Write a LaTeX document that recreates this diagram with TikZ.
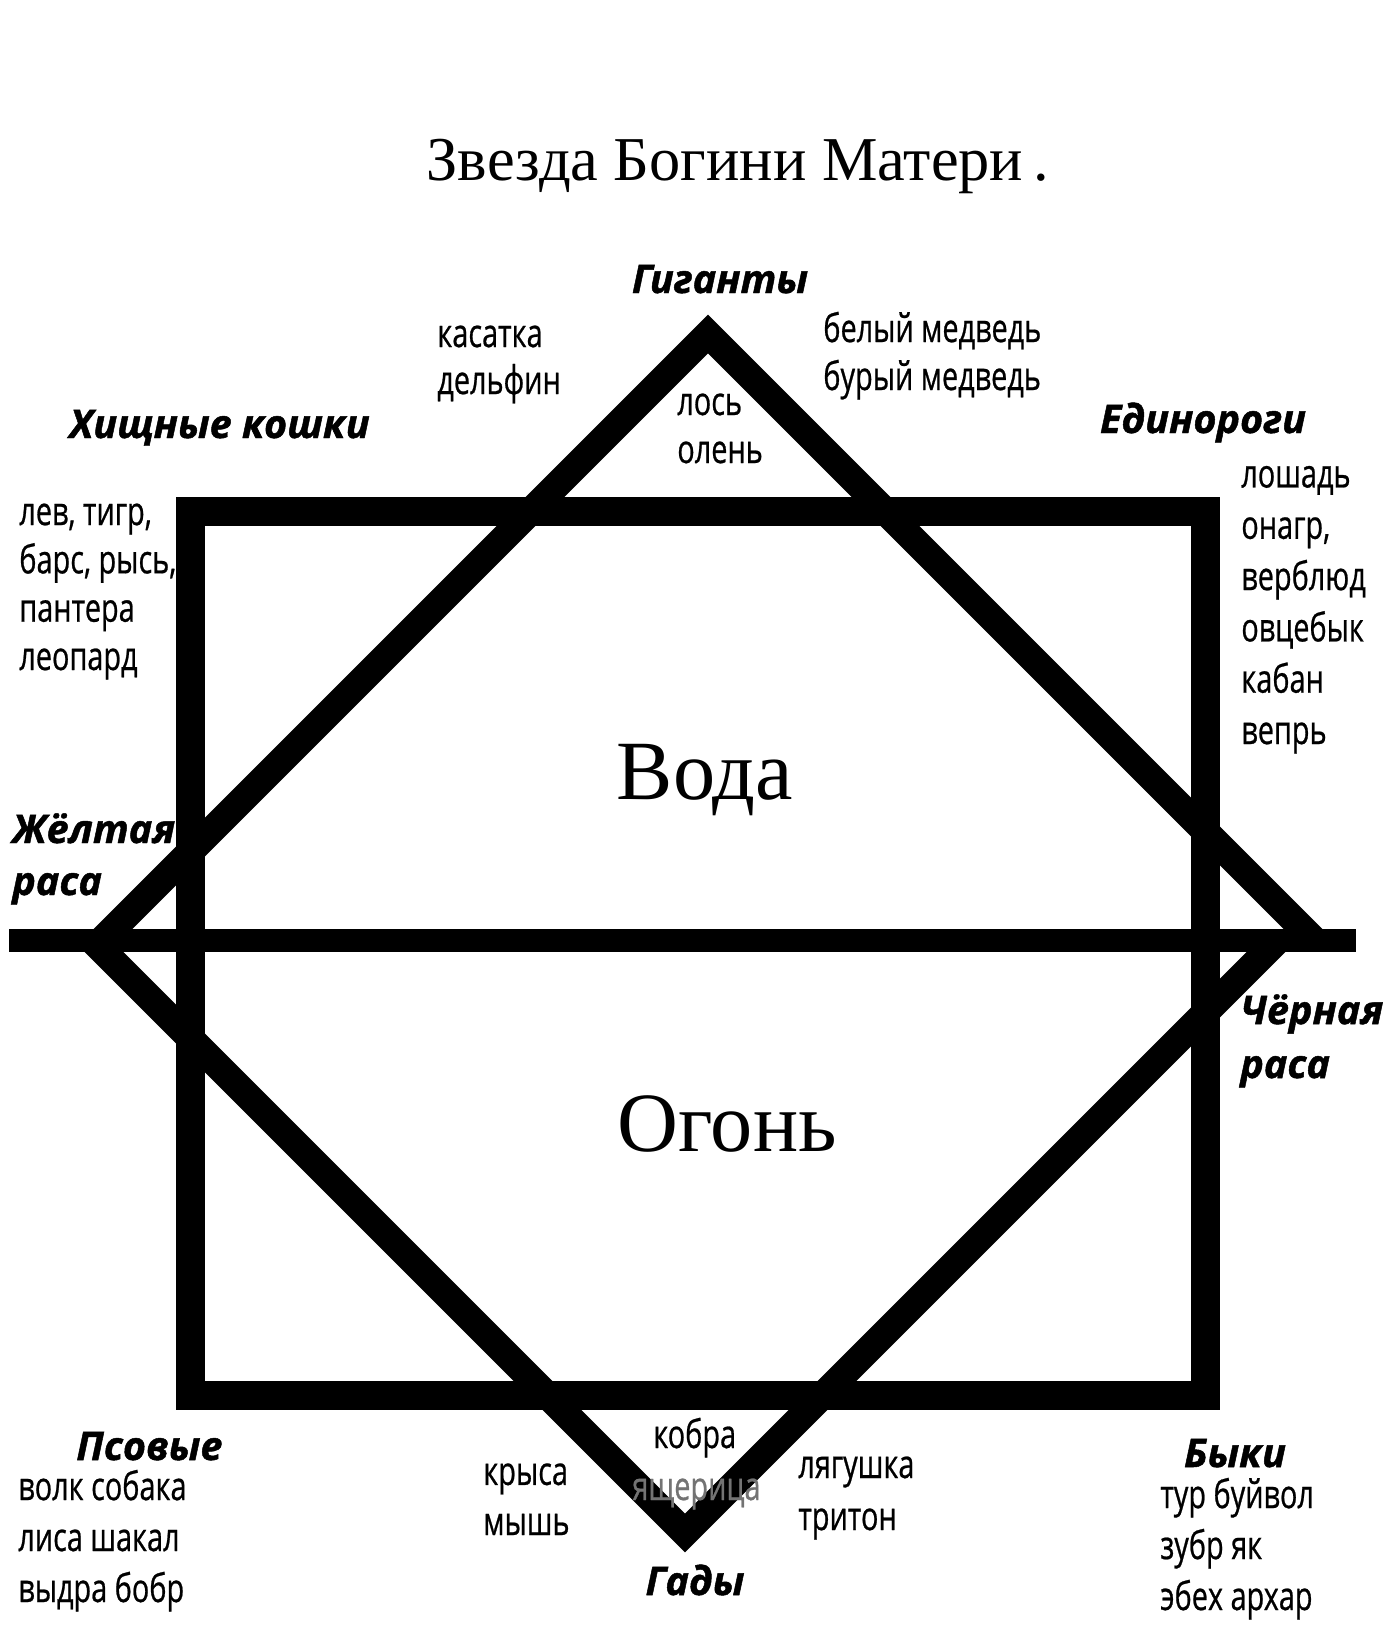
\documentclass[tikz,border=0pt]{standalone}
\usepackage{fontspec}
\setmainfont{Liberation Serif}
\newfontfamily\narrowsans[FakeStretch=0.73, FakeBold=0.6]{Open Sans}
\newfontfamily\headsans[BoldItalicFeatures={FakeBold=1.2}]{Open Sans}
\begin{document}
\begin{tikzpicture}[x=0.02cm, y=-0.02cm]
    \tikzset{
        band/.style={line width=15.6pt, line join=miter},
        lbl/.style={font=\narrowsans\fontsize{22.5}{#1}\selectfont, align=left, anchor=base west, inner sep=0pt},
        lbl/.default=28.5,
        grp/.style={font=\headsans\bfseries\itshape\fontsize{22.5}{#1}\selectfont, align=left, anchor=base west, inner sep=0pt},
        grp/.default=29.6,
        big/.style={font=\fontsize{48}{48}\selectfont, anchor=base, inner sep=0pt}
        }
    \useasboundingbox (0,0) rectangle (1386,1646);

    %title
    \node (title) [font=\fontsize{35.5}{35.5}\selectfont, anchor=base, inner sep=0pt] at (738,180) {Звезда Богини Матери\,.};

    %frame
    \coordinate (tl) at (190.5,511);
    \coordinate (br) at (1205.5,1395);
    \draw[line width=16.5pt] (tl) rectangle (br);

    %upper triangle
    \coordinate (apexT) at (708,334);
    \coordinate (leftT) at (102,940);
    \coordinate (rightT) at (1314,940);
    \draw[band] (leftT) -- (apexT) -- (rightT);

    %lower triangle
    \coordinate (apexB) at (685,1533);
    \coordinate (leftB) at (92,940);
    \coordinate (rightB) at (1278,940);
    \draw[band] (leftB) -- (apexB) -- (rightB);

    %middle line
    \coordinate (westL) at (9,940);
    \coordinate (eastL) at (1356,940);
    \draw[line width=13.1pt] (westL) -- (eastL);

    %top
    \node (giants) [grp, anchor=base] at (720,293) {Гиганты};
    \node (orca) [lbl=26.7] at (437,394) {касатка\\дельфин};
    \node (bears) [lbl=27.3] at (823,390) {белый медведь\\бурый медведь};
    \node (deer) [lbl=27.3] at (677,463) {лось\\олень};

    %left and right
    \node (cats) [grp] at (69,438) {Хищные кошки};
    \node (catlist) [lbl=27.5] at (19,670) {лев, тигр,\\барс, рысь,\\пантера\\леопард};
    \node (unicorns) [grp, anchor=base] at (1203,433) {Единороги};
    \node (horses) [lbl=29.2] at (1241,744) {лошадь\\онагр,\\верблюд\\овцебык\\кабан\\вепрь};
    \node (yellow) [grp] at (12,895) {Жёлтая\\раса};
    \node (black) [grp=30.7] at (1240,1078) {Чёрная\\раса};

    %elements
    \node (water) [big] at (705,799) {Вода};
    \node (fire) [big] at (727,1151) {Огонь};

    %bottom
    \node (dogs) [grp] at (76,1460) {Псовые};
    \node (doglist) [lbl=29] at (18,1602) {волк собака\\лиса шакал\\выдра бобр};
    \node (rats) [lbl] at (483,1535) {крыса\\мышь};
    \node (cobra) [lbl] at (653,1448) {кобра};
    \node (lizard) [lbl, text=black!55] at (632,1500) {ящерица};
    \node (frogs) [lbl=29.6] at (798,1530) {лягушка\\тритон};
    \node (reptiles) [grp, anchor=base] at (695,1595) {Гады};
    \node (bulls) [grp, anchor=base] at (1235,1467) {Быки};
    \node (bullist) [lbl=29] at (1160,1610) {тур буйвол\\зубр як\\эбех архар};
\end{tikzpicture}
\end{document}
